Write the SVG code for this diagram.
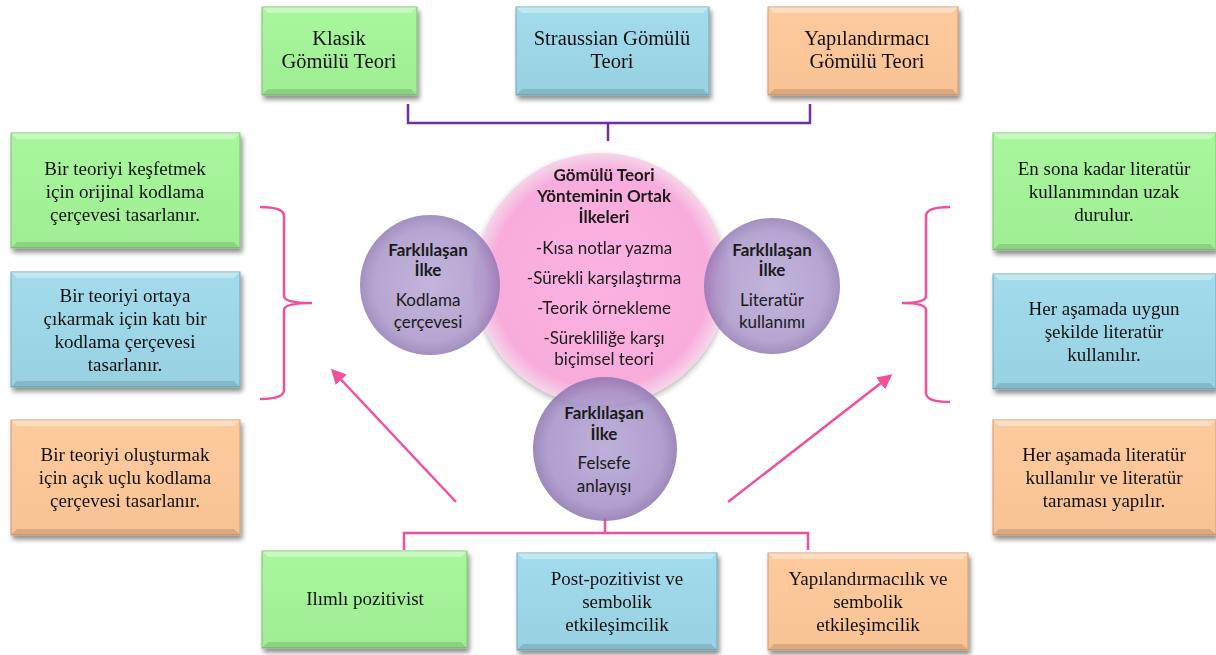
<svg xmlns="http://www.w3.org/2000/svg" width="1216" height="655" viewBox="0 0 1216 655">
<style>
.box text{font-family:"Liberation Serif",serif;font-size:19px;fill:#111;text-anchor:middle}
.big text{font-size:20.5px}
.cir text{font-family:Lato,"Open Sans",sans-serif;font-size:17px;fill:#1a1a1a;text-anchor:middle}
.b{font-weight:bold}
.g{fill:url(#gG);stroke:#7fbf75;stroke-width:1}
.u{fill:url(#gB);stroke:#6ea9b9;stroke-width:1}
.o{fill:url(#gO);stroke:#d09a6c;stroke-width:1}
.hl{fill:#fff;opacity:0.35}
.dk{fill:#000;opacity:0.12}
.pk{fill:none;stroke:#f0509a;stroke-width:2.5}
</style>
<defs>
<linearGradient id="gG" x1="0" y1="0" x2="0" y2="1"><stop offset="0" stop-color="#a8f79c"/><stop offset="1" stop-color="#a0ee94"/></linearGradient>
<linearGradient id="gB" x1="0" y1="0" x2="0" y2="1"><stop offset="0" stop-color="#a2dcec"/><stop offset="1" stop-color="#98d2e2"/></linearGradient>
<linearGradient id="gO" x1="0" y1="0" x2="0" y2="1"><stop offset="0" stop-color="#fecb9e"/><stop offset="1" stop-color="#f8c294"/></linearGradient>
<radialGradient id="gP" cx="0.5" cy="0.5" r="0.5"><stop offset="0" stop-color="#fbb2e2"/><stop offset="0.86" stop-color="#f8acdc"/><stop offset="1" stop-color="#f5d6ea"/></radialGradient>
<radialGradient id="gV" cx="0.5" cy="0.5" r="0.5"><stop offset="0" stop-color="#b3a2d4"/><stop offset="0.8" stop-color="#a48fc6"/><stop offset="1" stop-color="#8b74ae"/></radialGradient>
<filter id="sh" x="-10%" y="-10%" width="130%" height="130%"><feGaussianBlur in="SourceAlpha" stdDeviation="2.5"/><feOffset dx="2" dy="4"/><feComponentTransfer><feFuncA type="linear" slope="0.45"/></feComponentTransfer><feMerge><feMergeNode/><feMergeNode in="SourceGraphic"/></feMerge></filter>
<filter id="sc" x="-20%" y="-20%" width="140%" height="140%"><feGaussianBlur in="SourceAlpha" stdDeviation="3"/><feOffset dx="0" dy="3"/><feComponentTransfer><feFuncA type="linear" slope="0.3"/></feComponentTransfer><feMerge><feMergeNode/><feMergeNode in="SourceGraphic"/></feMerge></filter>
<marker id="ah" viewBox="0 0 10 10" refX="8" refY="5" markerWidth="6" markerHeight="6" orient="auto"><path d="M0,0 L10,5 L0,10 z" fill="#f0509a"/></marker>
</defs>

<g id="connectors">
<path d="M408,104 V123 H810 V104 M608,123 V141" fill="none" stroke="#7030a0" stroke-width="2.5"/>
<path class="pk" d="M260,207 Q284,207 284,216 V296 Q284,303 312,303 Q284,303 284,310 V390 Q284,399 260,399"/>
<path class="pk" d="M950,207 Q926,207 926,216 V296 Q926,303 902,303 Q926,303 926,310 V393 Q926,402 950,402"/>
<path class="pk" d="M404,550 V533 H808 V550 M605,518 V533"/>
<line class="pk" x1="456" y1="502" x2="333" y2="371" marker-end="url(#ah)"/>
<line class="pk" x1="728" y1="502" x2="890" y2="376" marker-end="url(#ah)"/>
</g>

<g id="top1" class="box big" filter="url(#sh)"><rect class="g" x="262" y="7" width="155" height="88"/><polygon class="hl" points="262,7 417,7 411,13 268,13"/><polygon class="dk" points="262,95 417,95 411,89 268,89"/><text x="339" y="45">Klasik</text><text x="339" y="68">Gömülü Teori</text></g>
<g id="top2" class="box big" filter="url(#sh)"><rect class="u" x="516" y="7" width="193" height="88"/><polygon class="hl" points="516,7 709,7 703,13 522,13"/><polygon class="dk" points="516,95 709,95 703,89 522,89"/><text x="612" y="45">Straussian Gömülü</text><text x="612" y="68">Teori</text></g>
<g id="top3" class="box big" filter="url(#sh)"><rect class="o" x="768" y="7" width="190" height="88"/><polygon class="hl" points="768,7 958,7 952,13 774,13"/><polygon class="dk" points="768,95 958,95 952,89 774,89"/><text x="867" y="45">Yapılandırmacı</text><text x="867" y="68">Gömülü Teori</text></g>

<g id="left1" class="box" filter="url(#sh)"><rect class="g" x="11" y="133" width="229" height="115"/><polygon class="hl" points="11,133 240,133 234,139 17,139"/><polygon class="dk" points="11,248 240,248 234,242 17,242"/><text x="125" y="175">Bir teoriyi keşfetmek</text><text x="125" y="198">için orijinal kodlama</text><text x="125" y="221">çerçevesi tasarlanır.</text></g>
<g id="left2" class="box" filter="url(#sh)"><rect class="u" x="11" y="272" width="229" height="115"/><polygon class="hl" points="11,272 240,272 234,278 17,278"/><polygon class="dk" points="11,387 240,387 234,381 17,381"/><text x="125" y="302">Bir teoriyi ortaya</text><text x="125" y="325">çıkarmak için katı bir</text><text x="125" y="348">kodlama çerçevesi</text><text x="125" y="371">tasarlanır.</text></g>
<g id="left3" class="box" filter="url(#sh)"><rect class="o" x="11" y="420" width="229" height="115"/><polygon class="hl" points="11,420 240,420 234,426 17,426"/><polygon class="dk" points="11,535 240,535 234,529 17,529"/><text x="125" y="461">Bir teoriyi oluşturmak</text><text x="125" y="484">için açık uçlu kodlama</text><text x="125" y="507">çerçevesi tasarlanır.</text></g>

<g id="right1" class="box" filter="url(#sh)"><rect class="g" x="993" y="133" width="223" height="117"/><polygon class="hl" points="993,133 1216,133 1210,139 999,139"/><polygon class="dk" points="993,250 1216,250 1210,244 999,244"/><text x="1104" y="175">En sona kadar literatür</text><text x="1104" y="198">kullanımından uzak</text><text x="1104" y="221">durulur.</text></g>
<g id="right2" class="box" filter="url(#sh)"><rect class="u" x="993" y="274" width="223" height="115"/><polygon class="hl" points="993,274 1216,274 1210,280 999,280"/><polygon class="dk" points="993,389 1216,389 1210,383 999,383"/><text x="1104" y="315">Her aşamada uygun</text><text x="1104" y="338">şekilde literatür</text><text x="1104" y="361">kullanılır.</text></g>
<g id="right3" class="box" filter="url(#sh)"><rect class="o" x="993" y="420" width="223" height="115"/><polygon class="hl" points="993,420 1216,420 1210,426 999,426"/><polygon class="dk" points="993,535 1216,535 1210,529 999,529"/><text x="1104" y="461">Her aşamada literatür</text><text x="1104" y="484">kullanılır ve literatür</text><text x="1104" y="507">taraması yapılır.</text></g>

<g id="bot1" class="box" filter="url(#sh)"><rect class="g" x="262" y="551" width="205" height="97"/><polygon class="hl" points="262,551 467,551 461,557 268,557"/><polygon class="dk" points="262,648 467,648 461,642 268,642"/><text x="365" y="605">Ilımlı pozitivist</text></g>
<g id="bot2" class="box" filter="url(#sh)"><rect class="u" x="517" y="553" width="200" height="97"/><polygon class="hl" points="517,553 717,553 711,559 523,559"/><polygon class="dk" points="517,650 717,650 711,644 523,644"/><text x="617" y="585">Post-pozitivist ve</text><text x="617" y="608">sembolik</text><text x="617" y="631">etkileşimcilik</text></g>
<g id="bot3" class="box" filter="url(#sh)"><rect class="o" x="768" y="553" width="200" height="97"/><polygon class="hl" points="768,553 968,553 962,559 774,559"/><polygon class="dk" points="768,650 968,650 962,644 774,644"/><text x="868" y="585">Yapılandırmacılık ve</text><text x="868" y="608">sembolik</text><text x="868" y="631">etkileşimcilik</text></g>

<g id="center" class="cir" filter="url(#sc)"><circle cx="601" cy="279" r="126" fill="url(#gP)"/>
<text class="b" x="604" y="181">Gömülü Teori</text><text class="b" x="604" y="202">Yönteminin Ortak</text><text class="b" x="604" y="223">İlkeleri</text>
<text x="604" y="254">-Kısa notlar yazma</text><text x="604" y="284">-Sürekli karşılaştırma</text><text x="604" y="314">-Teorik örnekleme</text><text x="604" y="344">-Sürekliliğe karşı</text><text x="604" y="365">biçimsel teori</text></g>
<g id="cleft" class="cir"><circle cx="430" cy="285" r="70" fill="url(#gV)" opacity="0.8"/><text class="b" x="428" y="256">Farklılaşan</text><text class="b" x="428" y="276">İlke</text><text x="428" y="306">Kodlama</text><text x="428" y="328">çerçevesi</text></g>
<g id="cright" class="cir"><circle cx="772" cy="286" r="68" fill="url(#gV)" opacity="0.8"/><text class="b" x="772" y="256">Farklılaşan</text><text class="b" x="772" y="276">İlke</text><text x="772" y="306">Literatür</text><text x="772" y="328">kullanımı</text></g>
<g id="cbottom" class="cir"><circle cx="605" cy="449" r="72" fill="url(#gV)" opacity="0.85"/><text class="b" x="604" y="419">Farklılaşan</text><text class="b" x="604" y="440">İlke</text><text x="604" y="469">Felsefe</text><text x="604" y="492">anlayışı</text></g>
</svg>
